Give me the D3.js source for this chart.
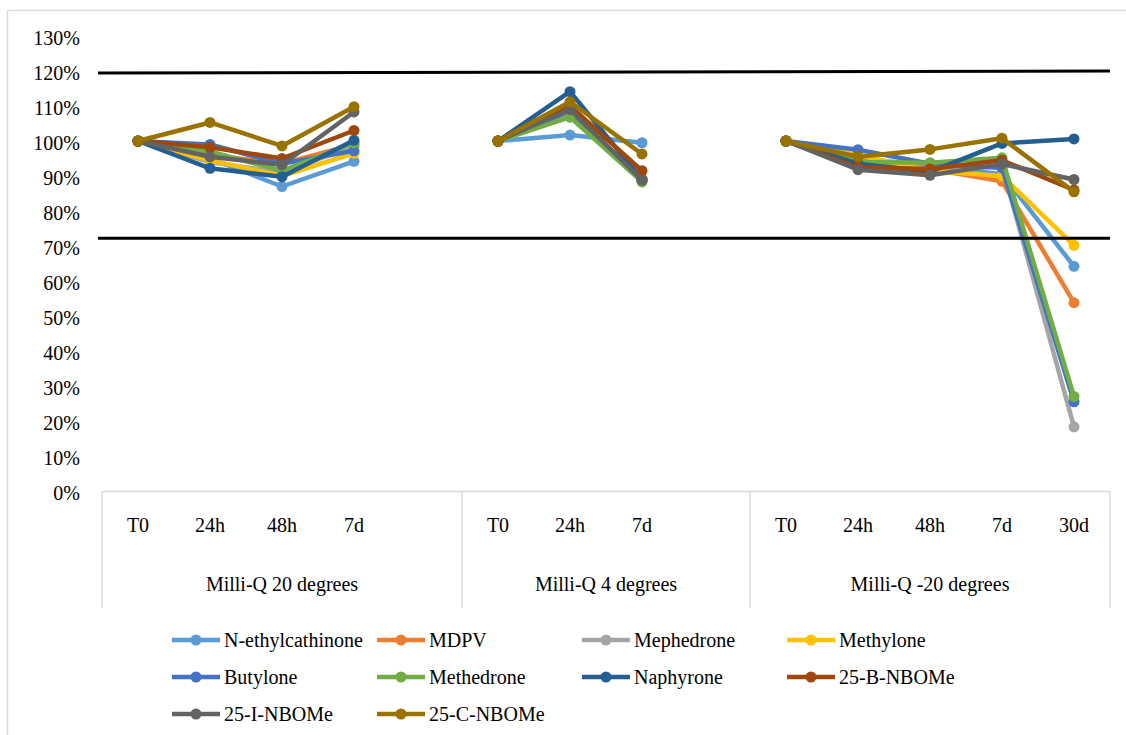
<!DOCTYPE html>
<html>
<head>
<meta charset="utf-8">
<script src="https://cdn.jsdelivr.net/npm/d3@7"></script>
<style>
  html, body { margin: 0; padding: 0; background: #fff; }
</style>
</head>
<body>
<svg id="chart" width="1126" height="735"></svg>
<script>
// ---------- DATA ----------
const groups = ["Milli-Q 20 degrees", "Milli-Q 4 degrees", "Milli-Q -20 degrees"];
// category slots (group index, tick label); empty label = blank slot
const slotGroup = [0, 0, 0, 0, 0, 1, 1, 1, 1, 2, 2, 2, 2, 2];
const slotLabel = ["T0", "24h", "48h", "7d", "", "T0", "24h", "7d", "", "T0", "24h", "48h", "7d", "30d"];
const yTicks = [0, 10, 20, 30, 40, 50, 60, 70, 80, 90, 100, 110, 120, 130];

const seriesNames = ["N-ethylcathinone", "MDPV", "Mephedrone", "Methylone", "Butylone",
                     "Methedrone", "Naphyrone", "25-B-NBOMe", "25-I-NBOMe", "25-C-NBOMe"];
const seriesColors = ["#5B9BD5", "#ED7D31", "#A5A5A5", "#FFC000", "#4472C4",
                      "#70AD47", "#255E91", "#9E480E", "#636363", "#997300"];

const nEthylcathinone = [100, 95, 87.0, 94.2, null, 100, 101.7, 99.5, null, 100, 95.0, 93.0, 90.5, 64.2];
const mdpv            = [100, 96, 93.5, 99.0, null, 100, 108.5, 89.0, null, 100, 94.5, 92.0, 88.5, 53.8];
const mephedrone      = [100, 94, 91.0, 98.5, null, 100, 107.5, 88.5, null, 100, 93.0, 91.0, 93.0, 18.3];
const methylone       = [100, 94.5, 90.0, 96.5, null, 100, 107.0, 89.0, null, 100, 96.0, 91.5, 90.0, 70.2];
const butylone        = [100, 99.0, 93.5, 97.2, null, 100, 108.5, 89.0, null, 100, 97.5, 93.5, 92.3, 25.5];
const methedrone      = [100, 97.0, 91.5, 99.5, null, 100, 106.8, 88.3, null, 100, 94.0, 93.8, 95.2, 27.0];
const naphyrone       = [100, 92.2, 89.8, 100.2, null, 100, 114.1, 89.0, null, 100, 93.5, 91.2, 99.3, 100.6];
const nbome25B        = [100, 98.2, 95.0, 103.0, null, 100, 110.0, 91.5, null, 100, 92.5, 92.0, 94.5, 86.0];
const nbome25I        = [100, 95.5, 93.2, 108.3, null, 100, 109.0, 88.8, null, 100, 91.8, 90.2, 93.4, 89.0];
const nbome25C        = [100, 105.3, 98.6, 109.8, null, 100, 111.2, 96.3, null, 100, 95.5, 97.6, 100.8, 85.5];
const seriesValues = [nEthylcathinone, mdpv, mephedrone, methylone, butylone,
                      methedrone, naphyrone, nbome25B, nbome25I, nbome25C];

// reference lines (start %, end %)
const refLines = [[119.4, 120.0], [72.2, 72.2]];

// ---------- LAYOUT ----------
const FONT = "'Liberation Serif', 'Times New Roman', Tinos, 'DejaVu Serif', serif";
const svg = d3.select("#chart");
const plot = { left: 102, right: 1110, top: 36, bottom: 491 };
const slots = d3.range(slotLabel.length);

const x = d3.scaleBand().domain(slots).range([plot.left, plot.right]).padding(0);
const cx = i => x(i) + x.bandwidth() / 2;
const y = d3.scaleLinear().domain([0, 130]).range([plot.bottom, plot.top]);

// outer chart border
svg.append("rect")
  .attr("x", 7.5).attr("y", 10.5).attr("width", 1140).attr("height", 760)
  .attr("fill", "none").attr("stroke", "#D9D9D9").attr("stroke-width", 1.5);

// y axis labels
const yAxis = d3.axisLeft(y).tickValues(yTicks).tickFormat(d => d + "%").tickSize(0).tickPadding(0);
const gy = svg.append("g").attr("transform", `translate(80,2)`).call(yAxis);
gy.attr("font-family", FONT).attr("font-size", 20);
gy.select(".domain").remove();
gy.selectAll("text").attr("font-family", FONT).attr("font-size", 20).attr("fill", "#000");

// category axis box
const axisBottom = 608;
const gx = svg.append("g").attr("font-family", FONT).attr("font-size", 20);
gx.append("line").attr("x1", plot.left).attr("x2", plot.right)
  .attr("y1", plot.bottom + 0.5).attr("y2", plot.bottom + 0.5)
  .attr("stroke", "#D9D9D9").attr("stroke-width", 1.5);
// group boundaries
const groupExtent = groups.map((g, gi) => {
  const idx = slots.filter(i => slotGroup[i] === gi);
  return [x(d3.min(idx)), x(d3.max(idx)) + x.bandwidth()];
});
const bounds = [groupExtent[0][0]].concat(groupExtent.map(e => e[1]));
gx.selectAll("line.sep").data(bounds).join("line").attr("class", "sep")
  .attr("x1", d => d).attr("x2", d => d)
  .attr("y1", plot.bottom).attr("y2", axisBottom)
  .attr("stroke", "#D9D9D9").attr("stroke-width", 1.5);
gx.selectAll("text.tick").data(slots.filter(i => slotLabel[i] !== "")).join("text")
  .attr("class", "tick")
  .attr("x", d => cx(d)).attr("y", 525).attr("dy", "0.35em")
  .attr("text-anchor", "middle").attr("font-family", FONT).attr("font-size", 20).attr("fill", "#000")
  .text(d => slotLabel[d]);
gx.selectAll("text.grp").data(groups).join("text").attr("class", "grp")
  .attr("x", (d, i) => (groupExtent[i][0] + groupExtent[i][1]) / 2)
  .attr("y", 584).attr("dy", "0.35em")
  .attr("text-anchor", "middle").attr("font-family", FONT).attr("font-size", 20).attr("fill", "#000")
  .text(d => d);

// ---------- SERIES ----------
const line = d3.line()
  .defined(d => d.v !== null)
  .x(d => cx(d.i)).y(d => y(d.v));

seriesValues.forEach((vals, si) => {
  const pts = vals.map((v, i) => ({ i, v }));
  const g = svg.append("g");
  g.append("path").datum(pts).attr("d", line)
    .attr("fill", "none").attr("stroke", seriesColors[si])
    .attr("stroke-width", 4.5).attr("stroke-linejoin", "round").attr("stroke-linecap", "round");
  g.selectAll("circle").data(pts.filter(d => d.v !== null)).join("circle")
    .attr("cx", d => cx(d.i)).attr("cy", d => y(d.v)).attr("r", 5.5)
    .attr("fill", seriesColors[si]);
});

// reference lines
svg.selectAll("line.ref").data(refLines).join("line").attr("class", "ref")
  .attr("x1", plot.left - 4).attr("x2", plot.right)
  .attr("y1", d => y(d[0])).attr("y2", d => y(d[1]))
  .attr("stroke", "#000").attr("stroke-width", 3);

// ---------- LEGEND ----------
const legCols = 4, colW = 205, legX0 = 172, legY0 = 640, rowH = 37, symW = 48;
const leg = svg.append("g");
seriesNames.forEach((name, i) => {
  const col = i % legCols, row = Math.floor(i / legCols);
  const gx0 = legX0 + col * colW, gy0 = legY0 + row * rowH;
  const g = leg.append("g").attr("transform", `translate(${gx0},${gy0})`);
  g.append("line").attr("x1", 0).attr("x2", symW).attr("y1", 0).attr("y2", 0)
    .attr("stroke", seriesColors[i]).attr("stroke-width", 4.5);
  g.append("circle").attr("cx", symW / 2).attr("cy", 0).attr("r", 5.5).attr("fill", seriesColors[i]);
  g.append("text").attr("x", symW + 4).attr("y", 0).attr("dy", "0.35em")
    .attr("font-family", FONT).attr("font-size", 20).attr("fill", "#000").text(name);
});
</script>
</body>
</html>
